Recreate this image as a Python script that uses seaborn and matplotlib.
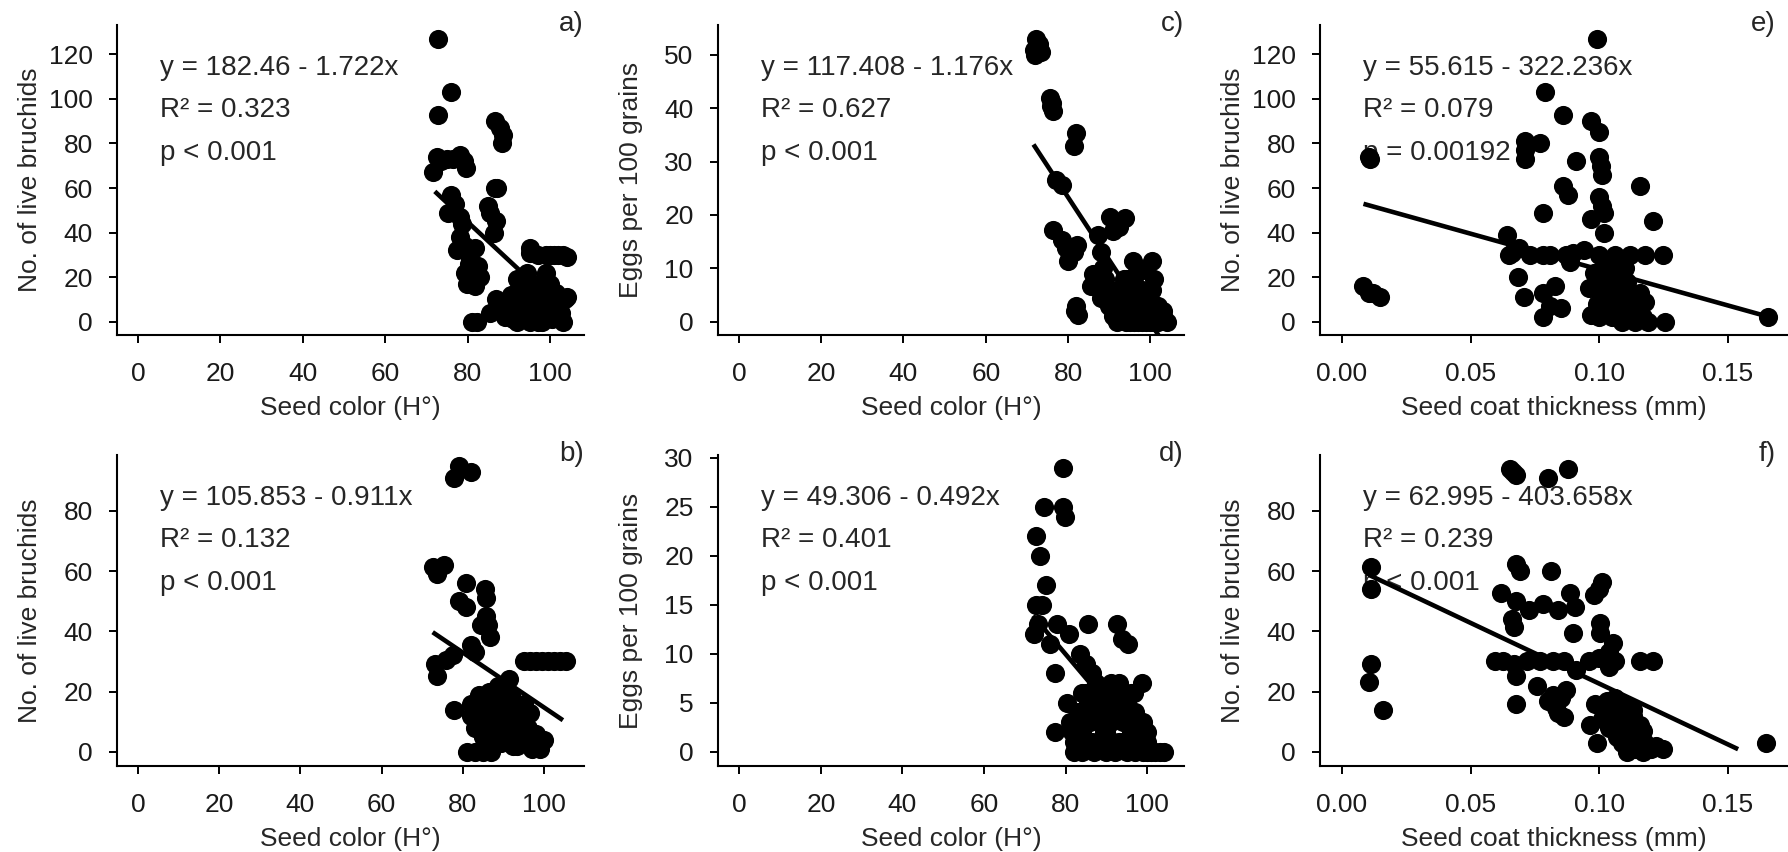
import numpy as np
import matplotlib
matplotlib.use("Agg")
import matplotlib.pyplot as plt
import seaborn as sns

# ---- data ----
# a) seed color vs live bruchids (set 1)
a_x = [72.7, 76, 72.7, 86.5, 87.7, 88.5, 88.2, 71.5, 72.5, 73.5, 75, 76.5, 78, 79, 79.5,
       86.5, 87, 76, 77, 75.2, 78, 85.4, 86.8, 86.4, 78, 77.5, 79.4, 81.7, 80.3, 79.4, 82.6,
       79.8, 81.7, 82.2, 81, 85.4, 86.8, 87.5,
       95, 97, 99, 100, 101, 102, 103, 104, 95.2, 94.3, 93, 92, 91, 90, 91, 92, 93, 94, 95,
       96, 96, 97, 97.5, 98, 99, 99.5, 100, 100.5, 101, 102, 103, 103.5, 104, 98, 95, 94, 93,
       96.5, 99, 100, 101.5, 92.5, 90.5, 89, 88,
       91.5, 93.5, 94.5, 95.5, 96.5, 97, 98.5, 99.5, 100.5, 101, 102.5, 93, 95, 97.5, 92, 96,
       83, 80.5, 78.5, 85]
a_y = [127, 103, 93, 90, 87, 84, 80, 67, 74, 72, 73, 73, 75, 72, 69,
       60, 60, 57, 53, 49, 47, 49, 45, 40, 38, 32, 34, 33, 26, 22, 25,
       17, 16, 0, 0, 4, 10, 8,
       31, 30, 30, 30, 30, 30, 30, 29, 33, 22, 18, 12, 8, 4, 1, 0, 5, 14, 10,
       6, 2, 0, 12, 18, 8, 15, 4, 1, 10, 6, 0, 10, 11, 0, 0, 3, 9,
       16, 22, 17, 13, 15, 12, 2, 5,
       3, 1, 7, 4, 10, 6, 3, 12, 7, 2, 4, 12, 15, 9, 19, 13,
       20, 28, 44, 52]

# c) seed color vs eggs per 100 grains (set 1)
c_x = [72.2, 73, 72, 73.5, 71.8, 75.5, 76, 76.3, 75.8, 81.9, 81.4, 77.2, 78.6,
       76.3, 78.6, 79.5, 80, 82.3, 81.5, 81.9, 82.4, 81.6,
       87.4, 87.9, 86, 85.6, 87.9, 88.5, 89, 90.2, 92.5, 93.9, 91,
       95.8, 99, 100.4, 100.4, 94, 96, 97, 98, 92, 93, 91, 90.5, 101,
       92, 93, 94, 95, 96, 97, 98, 99, 100, 101, 102, 103, 104, 103, 102, 95, 97, 99, 101,
       86.5, 88, 89.5, 90, 94.5, 96.5, 98.5, 93.5, 100, 102, 91.5, 95, 97.5, 99.5]
c_y = [53, 52, 50, 50.5, 51, 42, 41, 39.5, 40.5, 35.3, 33, 26.6, 25.6,
       17.2, 15.3, 13.8, 11.3, 14.4, 13, 3, 1.3, 2,
       16.3, 13.1, 9, 6.6, 5.9, 10, 8, 19.7, 17.8, 19.4, 17,
       11.3, 9.7, 11.3, 5.9, 8, 7, 4, 6, 6, 3, 1, 5, 8,
       0, 1, 0, 2, 0, 1, 0, 2, 0, 1, 0, 2, 0, 1, 2, 0, 0, 0, 0,
       7.5, 4.5, 6, 3, 5, 9, 3, 8, 2, 3, 2, 3.5, 1.5, 4.5]

# e) seed coat thickness vs live bruchids (set 1)
e_x = [0.099, 0.079, 0.086, 0.097, 0.100, 0.077, 0.071, 0.071, 0.071, 0.0107, 0.011, 0.091,
       0.100, 0.1007, 0.101, 0.086, 0.088, 0.116, 0.100, 0.101, 0.078, 0.102, 0.097, 0.121,
       0.102, 0.064,
       0.066, 0.069, 0.073, 0.078, 0.081, 0.087, 0.094, 0.1, 0.106, 0.112, 0.118, 0.125, 0.065, 0.090,
       0.0885, 0.0685, 0.0707, 0.078, 0.083, 0.081, 0.085, 0.078,
       0.096, 0.097, 0.099, 0.100, 0.101, 0.102, 0.103, 0.104, 0.105, 0.106, 0.107, 0.108, 0.109,
       0.110, 0.111, 0.112, 0.113, 0.114, 0.115, 0.116, 0.117, 0.118, 0.119, 0.105, 0.110, 0.1,
       0.1254, 0.1656, 0.0084, 0.0107, 0.015, 0.012,
       0.103, 0.106, 0.109, 0.112, 0.104, 0.108, 0.111, 0.114, 0.098, 0.107]
e_y = [127, 103, 93, 90, 85, 80, 81, 77, 73, 74, 73, 72,
       74, 70, 66, 61, 57, 61, 56, 52, 49, 49, 46, 45,
       40, 39,
       31, 33, 30, 30, 30, 30, 32, 30, 30, 30, 30, 30, 30, 31,
       27, 20, 11, 13, 16, 7, 6, 2,
       15, 3, 8, 20, 12, 25, 5, 17, 2, 10, 22, 14, 0,
       7, 18, 3, 11, 0, 6, 13, 2, 9, 0, 27, 24, 2,
       0, 2, 16, 13, 11, 13,
       14, 5, 20, 8, 24, 1, 12, 4, 22, 18]

# b) seed color vs live bruchids (set 2)
b_x = [77.8, 79.2, 82.1, 72.6, 75.5, 73.6, 80.7, 79.2, 80.7, 85.4, 85.8, 85.8, 86.3, 86.8,
       84.4, 82.1, 83, 73.1, 73.6, 75.9, 77.5,
       95, 96.5, 98, 99.5, 101, 102.5, 104, 105.5,
       88.7, 87.7, 77.8, 82.1, 84.9, 91.5,
       83, 84, 85, 86, 87, 88, 89, 89.5, 90, 91, 91.5, 92, 93, 93.5, 94, 95, 95.5, 96, 97, 98,
       99, 100, 86.5, 84,
       81, 83, 85, 87, 92.5, 97.2,
       86, 88, 90, 92, 94, 89, 91, 93, 95, 87.5, 96.5, 82]
b_y = [91, 95, 93, 61.5, 62, 59, 56, 50, 48, 54, 51, 45, 42, 38,
       42, 35.5, 33, 29, 25, 30.5, 32,
       30, 30, 30, 30, 30, 30, 30, 30,
       22, 18, 14, 12, 16, 24,
       8, 14, 5, 10, 13, 7, 15, 3, 11, 6, 18, 14, 9, 2, 12, 16, 5, 8, 3, 6,
       1, 4, 20, 19,
       0, 0, 0, 0, 2, 1,
       16, 11, 8, 19, 6, 21, 13, 4, 11, 3, 13, 16]

# d) seed color vs eggs per 100 grains (set 2)
d_x = [79.4, 74.7, 79.4, 79.8, 72.8, 73.7, 75.1, 72.8, 74.2, 72.3, 73.2, 77.9, 85.5, 92.5,
       76.1, 80.8, 83.6, 93.9, 95.3, 77.5, 85, 86.4, 80.3, 77.5, 98.6, 96.7,
       81, 82, 83, 84, 85, 86, 87, 88, 89, 90, 91, 92, 93, 94, 95, 96, 97, 98, 99, 100,
       87.5, 89, 91, 93,
       82, 84, 87, 90, 92, 95, 97, 99, 100, 101, 102, 103, 104,
       81.5, 83.5, 85.5, 86.5, 88.5, 90.5, 91.5, 93.5, 94.5, 96, 97.5, 84, 86, 88, 90, 92,
       94, 96, 98, 100, 89.5]
d_y = [29, 25, 25, 24, 22, 20, 17, 15, 15, 12, 13, 13, 13, 13,
       11, 12, 10, 11.5, 11, 8, 9, 8, 5, 2, 7, 6,
       3, 1, 4, 2, 6, 3, 5, 1, 6, 2, 7, 4, 7, 3, 5, 2, 4, 1, 3, 1,
       7, 4, 3, 1,
       0, 0, 0, 0, 0, 0, 0, 0, 0, 0, 0, 0, 0,
       2, 3, 5, 1, 3, 5, 1, 5, 6, 4, 2, 6, 4, 6, 4, 6,
       1, 6, 3, 2, 2]

# f) seed coat thickness vs live bruchids (set 2)
f_x = [0.0655, 0.0677, 0.0665, 0.0802, 0.0877,
       0.0114, 0.0114, 0.0678, 0.0692, 0.0812, 0.0618, 0.1011, 0.0981, 0.1,
       0.0678, 0.0729, 0.0781, 0.084, 0.0885, 0.0907, 0.0663, 0.067, 0.09, 0.1003, 0.1003,
       0.1055, 0.104,
       0.0596, 0.0626, 0.067, 0.072, 0.077, 0.082, 0.0865, 0.096, 0.1, 0.106, 0.116, 0.121,
       0.104, 0.091,
       0.0114, 0.0107, 0.0158,
       0.0678, 0.076, 0.0678, 0.0802, 0.087, 0.0863, 0.0833, 0.085,
       0.0985, 0.0963, 0.0993,
       0.102, 0.104, 0.106, 0.108, 0.109, 0.110, 0.111, 0.112, 0.113, 0.114, 0.115, 0.116,
       0.117, 0.118, 0.12, 0.122, 0.107, 0.105,
       0.165, 0.1249,
       0.103, 0.107, 0.111, 0.113, 0.101, 0.117, 0.084, 0.082]
f_y = [94, 92, 93, 91, 94,
       61.5, 54, 62.5, 60, 60, 52.6, 56.5, 52, 54,
       50, 47, 49, 47, 52.6, 48, 44, 41.6, 39.3, 42.7, 39.3,
       36, 33,
       30, 30, 29, 30, 30, 30, 30, 30, 31, 30, 30, 30,
       28, 27,
       29, 23, 14,
       25, 22, 16, 17, 20.5, 11.6, 14.4, 18,
       16, 9, 3,
       14, 8, 18, 11, 3, 15, 0, 7, 12, 1, 5, 9,
       0, 3, 1, 2, 5, 12,
       3, 1,
       17, 10, 4, 14, 11, 7, 13, 19]

# fitted lines (intercept, slope) and x span of each fitted line
intercepts = [182.46, 117.408, 55.615, 105.853, 49.306, 62.995]
slopes = [-1.722, -1.176, -322.236, -0.911, -0.492, -403.658]
line_spans = [(72, 104), (71.6, 104), (0.0084, 0.1656), (72.6, 104.7), (72, 100), (0.0105, 0.154)]
stats_text = [
    ["y = 182.46 - 1.722x", "R² = 0.323", "p < 0.001"],
    ["y = 117.408 - 1.176x", "R² = 0.627", "p < 0.001"],
    ["y = 55.615 - 322.236x", "R² = 0.079", "p = 0.00192"],
    ["y = 105.853 - 0.911x", "R² = 0.132", "p < 0.001"],
    ["y = 49.306 - 0.492x", "R² = 0.401", "p < 0.001"],
    ["y = 62.995 - 403.658x", "R² = 0.239", "p < 0.001"],
]
panel_tags = ["a)", "c)", "e)", "b)", "d)", "f)"]
x_labels = ["Seed color (H°)", "Seed color (H°)", "Seed coat thickness (mm)"] * 2
y_labels = ["No. of live bruchids", "Eggs per 100 grains", "No. of live bruchids",
            "No. of live bruchids", "Eggs per 100 grains", "No. of live bruchids"]
xs = [a_x, c_x, e_x, b_x, d_x, f_x]
ys = [a_y, c_y, e_y, b_y, d_y, f_y]

# ---- style ----
sns.set_style("ticks")
plt.rcParams['font.family'] = ['Liberation Sans', 'DejaVu Sans']

fig = plt.figure(figsize=(17.88, 8.52), dpi=100)

lefts = [117, 718, 1320]
widths = [467, 466, 467]
rows = [(25, 335), (455, 766)]
W, H = 1788, 852

xlims = [(-5.1, 108.2), (-5.1, 108.2), (-0.0085, 0.173),
         (-5.2, 109.9), (-5.2, 109.0), (-0.0085, 0.173)]
ylims = [(-6.0, 133.2), (-2.5, 55.6), (-6.0, 133.2),
         (-4.75, 98.6), (-1.47, 30.3), (-4.75, 98.6)]
yticks = [np.arange(0, 121, 20), np.arange(0, 51, 10), np.arange(0, 121, 20),
          np.arange(0, 81, 20), np.arange(0, 31, 5), np.arange(0, 81, 20)]
tag_x = [1.0, 1.0, 0.975, 1.0, 1.0, 0.975]

for i in range(6):
    r, c = divmod(i, 3)
    top, bot = rows[r]
    ax = fig.add_axes([lefts[c] / W, 1 - bot / H, widths[c] / W, (bot - top) / H])

    # regression line
    x0, x1 = line_spans[i]
    lx = np.array([x0, x1])
    ax.plot(lx, intercepts[i] + slopes[i] * lx, color='black', lw=3.3, zorder=2,
            solid_capstyle='butt')

    sns.scatterplot(x=xs[i], y=ys[i], ax=ax, color='black', s=190, linewidth=0,
                    zorder=3, legend=False)

    for txt, yy in zip(stats_text[i], [0.839, 0.704, 0.565]):
        ax.text(0.092, yy, txt, transform=ax.transAxes, fontsize=20,
                va='baseline', ha='left', zorder=1)
    ax.text(tag_x[i], 0.98, panel_tags[i], transform=ax.transAxes, fontsize=20,
            va='baseline', ha='right', clip_on=False)

    ax.set_xlim(*xlims[i])
    ax.set_ylim(*ylims[i])
    ax.set_yticks(yticks[i])
    if c == 2:
        ax.set_xticks([0, 0.05, 0.10, 0.15])
        ax.set_xticklabels(["0.00", "0.05", "0.10", "0.15"])
    else:
        ax.set_xticks(np.arange(0, 101, 20))

    ax.set_xlabel(x_labels[i], fontsize=19)
    ax.set_ylabel(y_labels[i], fontsize=19)
    ax.xaxis.set_label_coords(0.5, -0.197)
    ax.yaxis.set_label_coords(-0.16, 0.5)

    for s in ['top', 'right']:
        ax.spines[s].set_visible(False)
    for s in ['left', 'bottom']:
        ax.spines[s].set_linewidth(1.5)
        ax.spines[s].set_color('black')
    ax.tick_params(axis='both', direction='out', length=6, width=1.4,
                   color='black', labelsize=19, labelcolor='#1a1a1a')
    ax.tick_params(axis='x', pad=13.5)
    ax.tick_params(axis='y', pad=11.5)
    ax.set_facecolor('white')

fig.savefig('out.png', dpi=100, facecolor='white')
